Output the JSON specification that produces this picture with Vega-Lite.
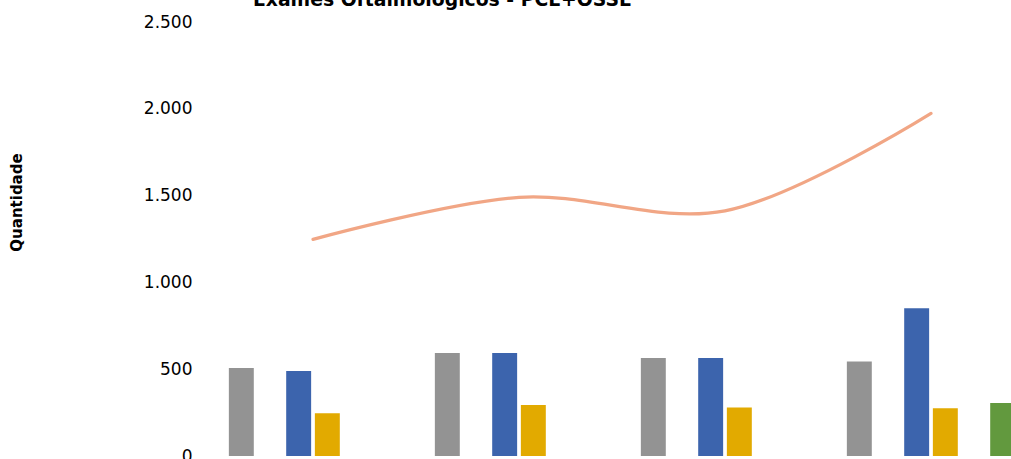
{
  "$schema": "https://vega.github.io/schema/vega-lite/v6.json",
  "autosize": {"type": "none"},
  "width": 801,
  "height": 434,
  "padding": {"left": 210, "top": 22, "right": 0, "bottom": 3},
  "background": "white",
  "title": {
    "text": "Exames Oftalmológicos - PCE+OSSE",
    "anchor": "start",
    "frame": "group",
    "dx": 43,
    "dy": 19,
    "offset": 7,
    "baseline": "alphabetic",
    "font": "DejaVu Sans",
    "fontSize": 18.8,
    "fontWeight": "bold",
    "color": "#000000"
  },
  "datasets": {
    "bars": [
      {"grupo": "G1", "serie": "Série 1", "quantidade": 507},
      {"grupo": "G1", "serie": "Série 3", "quantidade": 490},
      {"grupo": "G1", "serie": "Série 4", "quantidade": 246},
      {"grupo": "G2", "serie": "Série 1", "quantidade": 593},
      {"grupo": "G2", "serie": "Série 3", "quantidade": 593},
      {"grupo": "G2", "serie": "Série 4", "quantidade": 294},
      {"grupo": "G3", "serie": "Série 1", "quantidade": 565},
      {"grupo": "G3", "serie": "Série 3", "quantidade": 565},
      {"grupo": "G3", "serie": "Série 4", "quantidade": 280},
      {"grupo": "G4", "serie": "Série 1", "quantidade": 545},
      {"grupo": "G4", "serie": "Série 3", "quantidade": 851},
      {"grupo": "G4", "serie": "Série 4", "quantidade": 275},
      {"grupo": "G4", "serie": "Série 6", "quantidade": 305}
    ],
    "total": [
      {"grupo": "G1", "total": 1248},
      {"grupo": "G2", "total": 1490},
      {"grupo": "G3", "total": 1412},
      {"grupo": "G4", "total": 1974}
    ]
  },
  "encoding": {
    "x": {
      "field": "grupo",
      "type": "nominal",
      "axis": null,
      "scale": {
        "domain": ["G1", "G2", "G3", "G4"],
        "range": [0, 824],
        "paddingInner": 0.165,
        "paddingOuter": 0.0825
      }
    }
  },
  "layer": [
    {
      "data": {"name": "bars"},
      "mark": {"type": "bar", "clip": true},
      "encoding": {
        "xOffset": {
          "field": "serie",
          "type": "nominal",
          "scale": {
            "domain": ["Série 1", "Série 2", "Série 3", "Série 4", "Série 5", "Série 6"],
            "paddingInner": 0.13,
            "paddingOuter": 0.065
          }
        },
        "y": {
          "field": "quantidade",
          "type": "quantitative",
          "scale": {"domain": [0, 2500], "nice": false, "zero": true},
          "axis": {
            "values": [0, 500, 1000, 1500, 2000, 2500],
            "labelExpr": "replace(format(datum.value, ',d'), ',', '.')",
            "grid": false,
            "domain": false,
            "ticks": false,
            "labelPadding": 18,
            "labelFont": "DejaVu Sans",
            "labelFontSize": 17,
            "labelColor": "#000000",
            "title": "Quantidade",
            "titleFont": "DejaVu Sans",
            "titleFontSize": 15,
            "titleFontWeight": "bold",
            "titleColor": "#000000",
            "titleX": -186,
            "titleY": 180
          }
        },
        "color": {
          "field": "serie",
          "type": "nominal",
          "legend": null,
          "scale": {
            "domain": ["Série 1", "Série 2", "Série 3", "Série 4", "Série 5", "Série 6"],
            "range": ["#939393", "#ED7D31", "#3C64AD", "#E2AA00", "#5B9BD5", "#62993E"]
          }
        }
      }
    },
    {
      "data": {"name": "total"},
      "mark": {"type": "line", "interpolate": "catmull-rom", "color": "#F1A685", "strokeWidth": 3.2, "strokeCap": "round", "clip": true},
      "encoding": {
        "y": {"field": "total", "type": "quantitative", "scale": {"domain": [0, 2500], "nice": false, "zero": true}}
      }
    }
  ],
  "config": {
    "view": {"stroke": null}
  }
}
